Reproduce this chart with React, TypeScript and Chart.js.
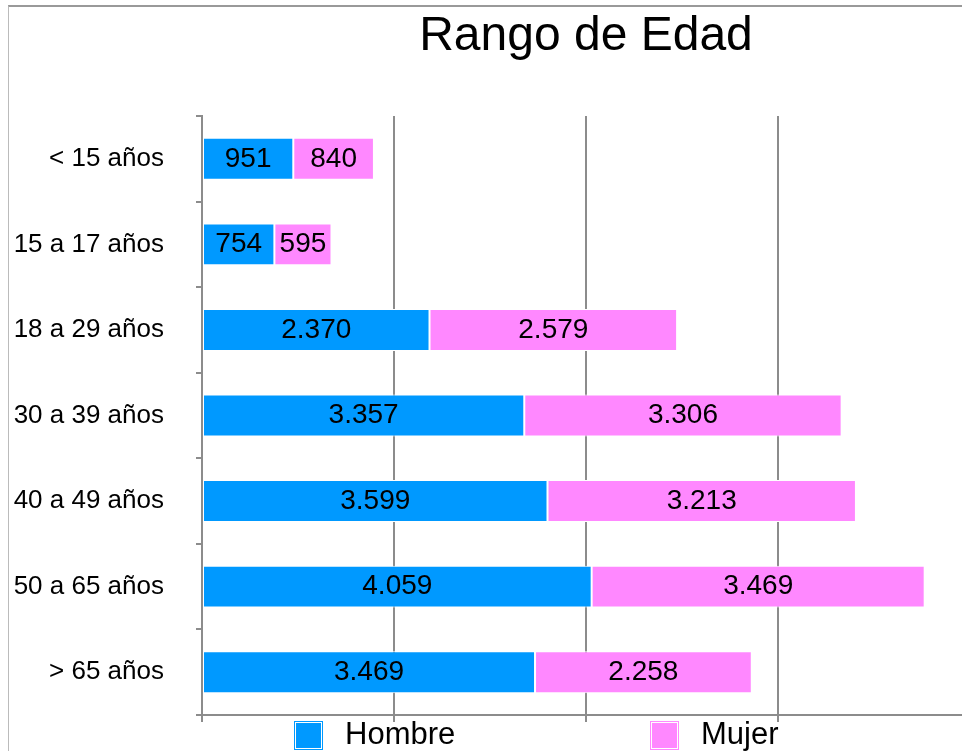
import React, { useEffect, useRef } from "react";
import { Chart, registerables } from "chart.js";

Chart.register(...registerables);

const title = "Rango de Edad";
const categories = [
  "< 15 años",
  "15 a 17 años",
  "18 a 29 años",
  "30 a 39 años",
  "40 a 49 años",
  "50 a 65 años",
  "> 65 años",
];
const seriesNames = ["Hombre", "Mujer"];
const hombre = [951, 754, 2370, 3357, 3599, 4059, 3469];
const mujer = [840, 595, 2579, 3306, 3213, 3469, 2258];
const seriesColors = ["#0099ff", "#ff88ff"];
const xMax = 8000;
const xStep = 2000;

const FONT = "'Liberation Sans', Arial, Helvetica, sans-serif";
const GRID = "#8c8c8c";

function fmt(n: number): string {
  return String(n).replace(/\B(?=(\d{3})+(?!\d))/g, ".");
}

const centeredTitle = {
  id: "centeredTitle",
  afterDraw(chart: any) {
    const ctx = chart.ctx;
    const area = chart.chartArea;
    ctx.save();
    ctx.font = `48px ${FONT}`;
    ctx.fillStyle = "#000";
    ctx.textAlign = "center";
    ctx.textBaseline = "alphabetic";
    ctx.fillText(title, (area.left + area.right) / 2, area.top - 66);
    ctx.restore();
  },
};

const valueLabels = {
  id: "valueLabels",
  afterDatasetsDraw(chart: any) {
    const ctx = chart.ctx;
    ctx.save();
    ctx.font = `28px ${FONT}`;
    ctx.fillStyle = "#000";
    ctx.textAlign = "center";
    ctx.textBaseline = "middle";
    chart.data.datasets.forEach((ds: any, i: number) => {
      const meta = chart.getDatasetMeta(i);
      meta.data.forEach((bar: any, j: number) => {
        const cx = (bar.x + bar.base) / 2;
        ctx.fillText(fmt(ds.data[j]), cx, bar.y);
      });
    });
    ctx.restore();
  },
};

const bottomLegend = {
  id: "bottomLegend",
  afterDraw(chart: any) {
    const ctx = chart.ctx;
    const area = chart.chartArea;
    const offsets = [92, 448];
    const box = 29;
    ctx.save();
    ctx.font = `31px ${FONT}`;
    ctx.textBaseline = "middle";
    ctx.textAlign = "left";
    chart.data.datasets.forEach((ds: any, i: number) => {
      const x = area.left + offsets[i];
      const y = area.bottom + 6;
      ctx.strokeStyle = ds.backgroundColor;
      ctx.lineWidth = 1;
      ctx.strokeRect(x + 0.5, y + 0.5, box - 1, box - 1);
      ctx.fillStyle = ds.backgroundColor;
      ctx.fillRect(x + 2, y + 2, box - 4, box - 4);
      ctx.fillStyle = "#000";
      ctx.fillText(ds.label, x + box + 22, area.bottom + 20);
    });
    ctx.restore();
  },
};

export default function App() {
  const ref = useRef<HTMLCanvasElement | null>(null);

  useEffect(() => {
    if (!ref.current) return;
    const chart = new Chart(ref.current, {
      type: "bar",
      data: {
        labels: categories,
        datasets: [
          {
            label: seriesNames[0],
            data: hombre,
            backgroundColor: seriesColors[0],
            borderColor: "#ffffff",
            borderWidth: 1,
            borderSkipped: false,
          },
          {
            label: seriesNames[1],
            data: mujer,
            backgroundColor: seriesColors[1],
            borderColor: "#ffffff",
            borderWidth: 1,
            borderSkipped: false,
          },
        ],
      },
      options: {
        indexAxis: "y",
        responsive: false,
        animation: false,
        devicePixelRatio: 1,
        datasets: {
          bar: { categoryPercentage: 1, barPercentage: 0.49 },
        },
        layout: { padding: { left: 0, right: 195, top: 109, bottom: 45 } },
        scales: {
          x: {
            stacked: true,
            min: 0,
            max: xMax,
            ticks: { display: false, stepSize: xStep },
            grid: {
              color: GRID,
              lineWidth: 2,
              tickLength: 7,
              drawTicks: true,
            },
            border: { display: true, color: GRID, width: 2 },
          },
          y: {
            stacked: true,
            afterFit: (s: any) => {
              s.width = 193;
            },
            ticks: {
              color: "#000",
              font: { family: FONT, size: 26 },
              padding: 32,
            },
            grid: {
              offset: true,
              drawOnChartArea: false,
              color: GRID,
              lineWidth: 2,
              tickLength: 6,
            },
            border: { display: true, color: GRID, width: 2 },
          },
        },
        plugins: {
          legend: { display: false },
          tooltip: { enabled: false },
          title: { display: false },
        },
      },
      plugins: [centeredTitle, valueLabels, bottomLegend],
    });
    return () => chart.destroy();
  }, []);

  return (
    <div
      style={{
        position: "absolute",
        left: 8,
        top: 5,
        width: 954,
        height: 746,
        overflow: "hidden",
        borderTop: "2px solid #999",
        borderLeft: "1px solid #bbb",
        boxSizing: "border-box",
        background: "#fff",
      }}
    >
      <canvas
        ref={ref}
        width={1156}
        height={760}
        style={{ display: "block", width: 1156, height: 760 }}
      />
    </div>
  );
}
